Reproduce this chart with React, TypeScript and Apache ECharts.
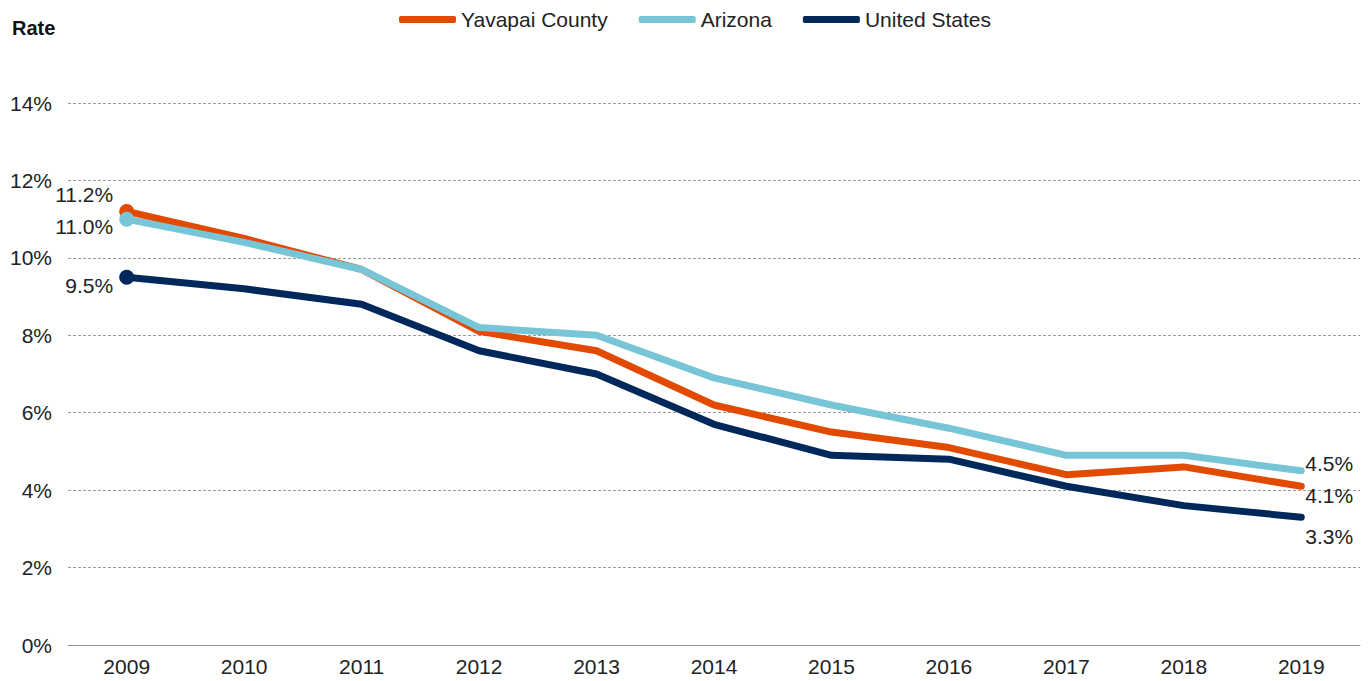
import React, { useEffect, useRef } from "react";
import * as echarts from "echarts";

const years = ["2009", "2010", "2011", "2012", "2013", "2014", "2015", "2016", "2017", "2018", "2019"];
const yavapai = [11.2, 10.5, 9.7, 8.1, 7.6, 6.2, 5.5, 5.1, 4.4, 4.6, 4.1];
const arizona = [11.0, 10.4, 9.7, 8.2, 8.0, 6.9, 6.2, 5.6, 4.9, 4.9, 4.5];
const unitedStates = [9.5, 9.2, 8.8, 7.6, 7.0, 5.7, 4.9, 4.8, 4.1, 3.6, 3.3];
const seriesNames = ["Yavapai County", "Arizona", "United States"];
const colors = ["#E24A00", "#78C5D7", "#00285A"];

const FONT = "Liberation Sans, Arial, sans-serif";

function buildData(values: number[], startOffset: number[], endOffset: number[]) {
  return values.map((v, i) => {
    if (i === 0) {
      return {
        value: v,
        label: {
          show: true,
          position: "left",
          distance: 6,
          offset: startOffset,
          formatter: (p: any) => p.value.toFixed(1) + "%",
        },
      };
    }
    if (i === values.length - 1) {
      return {
        value: v,
        label: {
          show: true,
          position: "right",
          distance: 4,
          offset: endOffset,
          formatter: (p: any) => p.value.toFixed(1) + "%",
        },
      };
    }
    return { value: v };
  });
}

export default function App() {
  const ref = useRef<HTMLDivElement>(null);
  useEffect(() => {
    document.body.style.margin = "0";
    const chart = echarts.init(ref.current!, undefined, { renderer: "svg" });
    const datasets = [
      buildData(yavapai, [0, -17], [0, 9]),
      buildData(arizona, [0, 7], [0, -7]),
      buildData(unitedStates, [0, 8], [0, 19]),
    ];
    chart.setOption({
      animation: false,
      textStyle: { fontFamily: FONT },
      grid: { left: 68, right: 9, top: 103, bottom: 36 },
      legend: {
        top: 4,
        left: 394,
        itemWidth: 57,
        itemHeight: 7,
        itemGap: 31,
        textStyle: { fontSize: 21, color: "#222", fontFamily: FONT },
        data: seriesNames.map((n, i) => ({
          name: n,
          icon: "roundRect",
          itemStyle: { color: colors[i] },
        })),
      },
      graphic: [
        {
          type: "text",
          left: 12,
          top: 18,
          style: { text: "Rate", fontSize: 20, fontWeight: "bold", fill: "#111", fontFamily: FONT },
        },
      ],
      xAxis: {
        type: "category",
        data: years,
        boundaryGap: true,
        axisLine: { lineStyle: { color: "#999", width: 1 } },
        axisTick: { alignWithLabel: true, length: 5, lineStyle: { color: "#999" } },
        axisLabel: { fontSize: 21, color: "#222", margin: 11, fontFamily: FONT },
      },
      yAxis: {
        type: "value",
        min: 0,
        max: 14,
        interval: 2,
        axisLine: { show: false },
        axisTick: { show: false },
        axisLabel: { fontSize: 21, color: "#222", margin: 16, formatter: "{value}%", fontFamily: FONT },
        splitLine: { lineStyle: { color: "#9a9a9a", type: [3, 2], width: 1 } },
      },
      series: seriesNames.map((n, i) => ({
        name: n,
        type: "line",
        data: datasets[i],
        color: colors[i],
        lineStyle: { width: 7, color: colors[i], cap: "round", join: "round" },
        itemStyle: { color: colors[i] },
        symbol: "circle",
        symbolSize: (_v: any, p: any) => (p.dataIndex === 0 ? 15 : 0),
        showSymbol: true,
        showAllSymbol: true,
        label: { fontSize: 21, color: "#222", fontFamily: FONT },
        emphasis: { disabled: true },
        z: 2 + i,
      })),
    });
    return () => chart.dispose();
  }, []);
  return <div ref={ref} style={{ width: 1369, height: 681 }} />;
}
